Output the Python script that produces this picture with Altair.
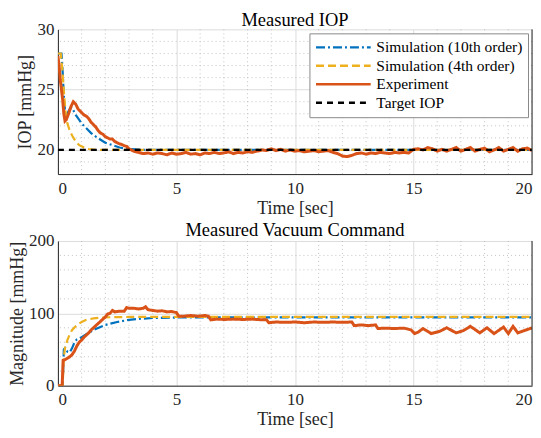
import altair as alt
import pandas as pd

FONT = "Liberation Serif"
SERIES = ["Simulation (10th order)", "Simulation (4th order)", "Experiment", "Target IOP"]
COLORS = ["#0072BD", "#EDB120", "#D95319", "#000000"]
DASHES = [[9, 3, 2, 3], [8, 4], [1, 0], [6, 5]]
WIDTHS = [2.2, 2.2, 3.0, 2.2]

# ---------------- top panel: Measured IOP ----------------
top_sim10_t = [0, 0.15, 0.2, 0.25, 0.3, 0.35, 0.42, 0.5, 0.58, 0.65, 0.75, 0.9, 1.0, 1.2, 1.4,
               1.6, 1.8, 2.0, 2.3, 2.6, 3.0, 3.5, 4.0, 20]
top_sim10_v = [28, 28, 26.5, 24.5, 23.2, 22.8, 23.1, 23.4, 23.5, 23.3, 22.9, 22.5, 22.2, 21.8, 21.4,
               21.1, 20.85, 20.6, 20.4, 20.2, 20.08, 20.02, 20.0, 20.0]

top_sim4_t = [0, 0.12, 0.18, 0.25, 0.32, 0.4, 0.5, 0.6, 0.75, 0.9, 1.1, 1.3, 1.6, 2.0, 20]
top_sim4_v = [28, 28, 26.8, 24.9, 23.2, 22.2, 21.6, 21.2, 20.7, 20.4, 20.2, 20.08, 20.02, 20.0, 20.0]

top_exp_t = [0, 0.05, 0.1, 0.15, 0.2, 0.25, 0.3, 0.35, 0.45, 0.55, 0.65, 0.75, 0.85, 1.0, 1.1,
             1.2, 1.3, 1.4, 1.5, 1.6, 1.7, 1.8, 1.9, 2.0, 2.1, 2.2, 2.3, 2.4, 2.5, 2.6, 2.7, 2.8, 2.9,
             3.0, 3.2, 3.4, 3.6, 3.8, 4.0, 4.2, 4.4, 4.6, 4.8, 5.0, 5.2, 5.4, 5.6, 5.8, 6.0, 6.2,
             6.4, 6.6, 6.8, 7.0, 7.2, 7.4, 7.6, 7.8, 8.0, 8.2, 8.4, 8.6, 8.8, 9.0, 9.2, 9.4, 9.6,
             9.8, 10.0, 10.2, 10.4, 10.6, 10.8, 11.0, 11.2, 11.4, 11.6, 11.8, 12.0, 12.2, 12.4,
             12.6, 12.8, 13.0, 13.2, 13.4, 13.6, 13.8, 14.0, 14.2, 14.4, 14.6, 14.8, 15.0, 15.2,
             15.4, 15.6, 15.8, 16.0, 16.2, 16.4, 16.6, 16.8, 17.0, 17.2, 17.4, 17.6, 17.8, 18.0,
             18.2, 18.4, 18.6, 18.8, 19.0, 19.2, 19.4, 19.6, 19.8, 20.0]
top_exp_v = [27.8, 27.0, 25.8, 25.0, 24.2, 23.0, 22.4, 22.5, 23.0, 23.6, 24.0, 23.8, 23.4, 23.1, 22.9,
             22.8, 22.6, 22.3, 22.1, 21.9, 21.6, 21.4, 21.3, 21.1, 21.0, 20.9, 20.9, 20.7, 20.6, 20.5,
             20.45, 20.35, 20.3,
             20.1, 19.9, 19.8, 19.7, 19.75, 19.65, 19.75, 19.7, 19.6, 19.75, 19.65, 19.7, 19.8, 19.65,
             19.7, 19.6, 19.75, 19.7, 19.8, 19.7, 19.75, 19.85, 19.7, 19.8, 19.75, 19.85, 19.8, 19.9,
             20.0, 19.95, 20.1, 19.95, 20.05, 19.9, 20.0, 19.9, 19.95, 19.85, 19.9, 19.95, 19.85,
             19.9, 19.95, 19.8, 19.7, 19.5, 19.45, 19.55, 19.7, 19.75, 19.65, 19.75, 19.7, 19.8,
             19.75, 19.7, 19.8, 19.75, 19.8, 19.75, 20.05, 20.1, 20.0, 20.2, 20.1, 19.9, 20.05, 19.9,
             20.05, 20.2, 19.9, 20.05, 20.2, 19.9, 20.05, 20.15, 19.85, 20.0, 20.2, 19.9, 20.05, 20.2,
             19.9, 20.1, 20.15, 19.95]

top_target_t = [0, 20]
top_target_v = [20, 20]

# ---------------- bottom panel: Measured Vacuum Command ----------------
bot_sim10_t = [0, 0.2, 0.25, 0.3, 0.4, 0.5, 0.6, 0.7, 0.8, 1.0, 1.2, 1.5, 2.0, 2.5, 3.0, 3.5, 4.0,
               5.0, 6.0, 20]
bot_sim10_v = [0, 0, 50, 52, 47, 46, 52, 60, 64, 67, 71, 77, 84, 88, 91, 92.5, 93.5, 94.2, 94.5, 94.5]

bot_sim4_t = [0, 0.2, 0.25, 0.3, 0.4, 0.5, 0.6, 0.8, 1.0, 1.2, 1.5, 2.0, 3.0, 20]
bot_sim4_v = [0, 0, 40, 52, 63, 71, 77, 84, 88, 91, 93, 94.5, 95, 95]

bot_exp_t = [0, 0.18, 0.22, 0.3, 0.4, 0.5, 0.6, 0.7, 0.8, 0.9, 1.0, 1.1, 1.2, 1.3, 1.4, 1.5, 1.6,
             1.7, 1.8, 1.9, 2.0, 2.1, 2.2, 2.3, 2.4, 2.6, 2.8, 2.9, 3.0, 3.2, 3.4, 3.6, 3.7, 3.8,
             4.0, 4.2, 4.4, 4.6, 4.8, 5.0, 5.1, 5.3, 5.6, 5.9, 6.2, 6.35, 6.45, 6.7, 7.0, 7.4, 7.8,
             8.2, 8.6, 8.8, 8.9, 9.2, 9.6, 10.0, 10.4, 10.8, 11.2, 11.6, 12.0, 12.4, 12.5, 12.8,
             13.1, 13.4, 13.5, 13.8, 14.2, 14.6, 14.9, 15.05, 15.2, 15.4, 15.75, 16.1, 16.4, 16.8,
             17.1, 17.4, 17.8, 18.1, 18.4, 18.8, 19.0, 19.2, 19.4, 19.75, 20.0]
bot_exp_v = [0, 0, 35, 36, 38, 40, 43, 48, 55, 60, 63, 67, 70, 73, 77, 80, 83,
             86, 89, 92, 95, 99, 100, 104, 102, 103, 103, 108, 107, 107, 106, 107, 109, 105,
             104, 103, 103.5, 102, 102.5, 101, 96, 96, 97, 96, 97, 96, 91, 92, 91.5, 92, 91.5,
             92, 91, 91, 87, 88, 87.5, 88, 87, 88, 87.5, 88, 87.5, 88, 83, 84,
             83, 84, 79, 79.5, 79, 79.5, 77, 72, 74, 79, 72, 75, 80, 73,
             76, 82, 73, 80, 72, 81, 72, 82, 73, 77, 80]

x_major = [0, 5, 10, 15, 20]
x_minor = [1, 2, 3, 4, 6, 7, 8, 9, 11, 12, 13, 14, 16, 17, 18, 19]
top_y_major = [20, 25, 30]
top_y_minor = [19, 21, 22, 23, 24, 26, 27, 28, 29]
bot_y_major = [0, 100, 200]
bot_y_minor = [20, 40, 60, 80, 120, 140, 160, 180]


def frame(t, v, name):
    return pd.DataFrame({"t": t, "v": v, "s": name})


def panel(title, ytitle, ydom, ymajor, yminor, series, show_legend, toff):
    color_scale = alt.Scale(domain=SERIES, range=COLORS)
    dash_scale = alt.Scale(domain=SERIES, range=DASHES)
    if show_legend:
        legend = alt.Legend(title=None, orient="top-right", offset=4, fillColor="white",
                            strokeColor="#8a8a8a", padding=5, symbolType="stroke",
                            symbolSize=3000, symbolStrokeWidth=2.4, clipHeight=18,
                            labelFont=FONT, labelFontSize=15.5, labelColor="#000000",
                            labelOffset=4, rowPadding=0.5)
    else:
        legend = None

    xenc = alt.X("t:Q", scale=alt.Scale(domain=[0, 20], nice=False),
                 axis=alt.Axis(values=x_major, title="Time [sec]", grid=True))
    yenc = alt.Y("v:Q", scale=alt.Scale(domain=ydom, nice=False, zero=False),
                 axis=alt.Axis(values=ymajor, title=ytitle, grid=True))

    minor_x = alt.Chart(pd.DataFrame({"t": x_minor})).mark_rule(
        color="#b5b5b5", strokeDash=[1, 3], strokeWidth=0.8).encode(x="t:Q")
    minor_y = alt.Chart(pd.DataFrame({"v": yminor})).mark_rule(
        color="#b5b5b5", strokeDash=[1, 3], strokeWidth=0.8).encode(y="v:Q")
    layers = [minor_x, minor_y]
    for (t, v, name) in series:
        i = SERIES.index(name)
        layers.append(
            alt.Chart(frame(t, v, name)).mark_line(strokeWidth=WIDTHS[i], clip=True).encode(
                x=xenc, y=yenc,
                color=alt.Color("s:N", scale=color_scale, legend=legend),
                strokeDash=alt.StrokeDash("s:N", scale=dash_scale, legend=legend),
            )
        )
    right = alt.Chart(pd.DataFrame({"t": [20]})).mark_rule(
        color="#262626", strokeWidth=1).encode(x="t:Q")
    layers.append(right)
    return alt.layer(*layers).properties(
        width=475, height=145,
        title=alt.TitleParams(title, font=FONT, fontSize=18.5, fontWeight="normal",
                              color="#000000", offset=toff))


top = panel("Measured IOP", "IOP [mmHg]", [18, 30], top_y_major, top_y_minor,
            [(top_sim10_t, top_sim10_v, SERIES[0]),
             (top_sim4_t, top_sim4_v, SERIES[1]),
             (top_exp_t, top_exp_v, SERIES[2]),
             (top_target_t, top_target_v, SERIES[3])], True, -9)

bottom = panel("Measured Vacuum Command", "Magnitude [mmHg]", [0, 200], bot_y_major, bot_y_minor,
               [(bot_sim10_t, bot_sim10_v, SERIES[0]),
                (bot_sim4_t, bot_sim4_v, SERIES[1]),
                (bot_exp_t, bot_exp_v, SERIES[2])], False, -8)

chart = alt.vconcat(top, bottom, spacing=4).properties(
    padding={"left": 0, "top": 2, "right": 0, "bottom": 0}
).configure_view(stroke=None).configure_axis(
    domainColor="#262626", domainWidth=1, ticks=False,
    gridColor="#dcdcdc", gridWidth=1,
    labelFont=FONT, labelFontSize=17, labelColor="#262626",
    titleFont=FONT, titleFontSize=18, titleFontWeight="normal", titleColor="#262626",
).configure_axisX(labelPadding=6, titlePadding=3).configure_axisY(
    labelPadding=4, titlePadding=2)

chart.save("out.html", embed_options={"renderer": "svg", "actions": False})
